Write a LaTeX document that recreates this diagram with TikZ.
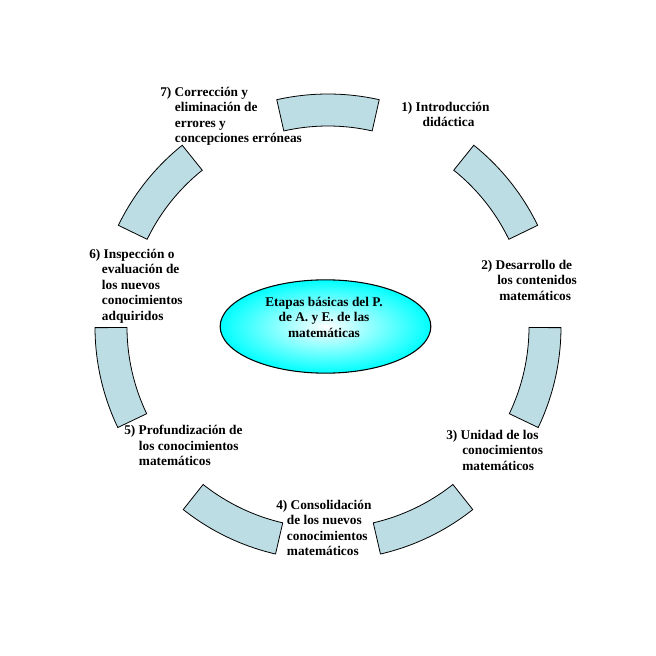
\documentclass[tikz,border=0pt]{standalone}
\usepackage{fontspec}
\setmainfont{Liberation Serif}
\usetikzlibrary{shapes.geometric}
\definecolor{tramoazul}{RGB}{188,221,228}
\tikzset{
  tramo/.style    = {draw, fill=tramoazul, line width=0.6pt},
  etiqueta/.style = {font=\bfseries\fontsize{10}{11.6}\selectfont, align=left,
                     inner sep=0pt, anchor=north west},
  nucleo/.style   = {ellipse, draw, line width=0.8pt, inner color=white,
                     outer color=cyan, minimum width=158pt, minimum height=70pt},
  titulo/.style   = {font=\bfseries\fontsize{10}{11.6}\selectfont, align=center,
                     inner sep=0pt},
}
\newcommand{\tramosketch}[1]{%
  \pgfmathsetmacro{\ta}{#1+12.7}
  \pgfmathsetmacro{\tb}{#1-12.7}
  \draw[tramo] (\ta:233) arc [start angle=\ta, end angle=\tb, radius=233]
    -- (\tb:201) arc [start angle=\tb, end angle=\ta, radius=201] -- cycle;
}
\newcommand{\sang}[1]{\hspace*{#1pt}}

\begin{document}
\begin{tikzpicture}[x=0.75pt, y=0.75pt]
  \useasboundingbox (-328,-329) rectangle (328,327);
  % anillo de tramos
  \foreach \k in {0,...,6} {
    \pgfmathsetmacro{\med}{90-\k*360/7}
    \tramosketch{\med}
  }
  % centro
  \node[nucleo] (nucleo) at (-2.5,0.5) {};
  \node[titulo] (titulo) at (-4,10) {Etapas básicas del P.\\de A. y E. de las\\matemáticas};
  % etapas
  \node[etiqueta] (e1) at (73,225) {1) Introducción\\\sang{16}didáctica};
  \node[etiqueta] (e2) at (153,67) {2) Desarrollo de\\\sang{12}los contenidos\\\sang{13.5}matemáticos};
  \node[etiqueta] (e3) at (118,-103) {3) Unidad de los\\\sang{12}conocimientos\\\sang{12}matemáticos};
  \node[etiqueta] (e4) at (-52,-173) {4) Consolidación\\\sang{8}de los nuevos\\\sang{8}conocimientos\\\sang{8}matemáticos};
  \node[etiqueta] (e5) at (-204,-98) {5) Profundización de\\\sang{11}los conocimientos\\\sang{11}matemáticos};
  \node[etiqueta] (e6) at (-239,78) {6) Inspección o\\\sang{9.5}evaluación de\\\sang{9.5}los nuevos\\\sang{9.5}conocimientos\\\sang{9.5}adquiridos};
  \node[etiqueta] (e7) at (-168,240) {7) Corrección y\\\sang{11}eliminación de\\\sang{11}errores y\\\sang{11}concepciones erróneas};
\end{tikzpicture}
\end{document}
